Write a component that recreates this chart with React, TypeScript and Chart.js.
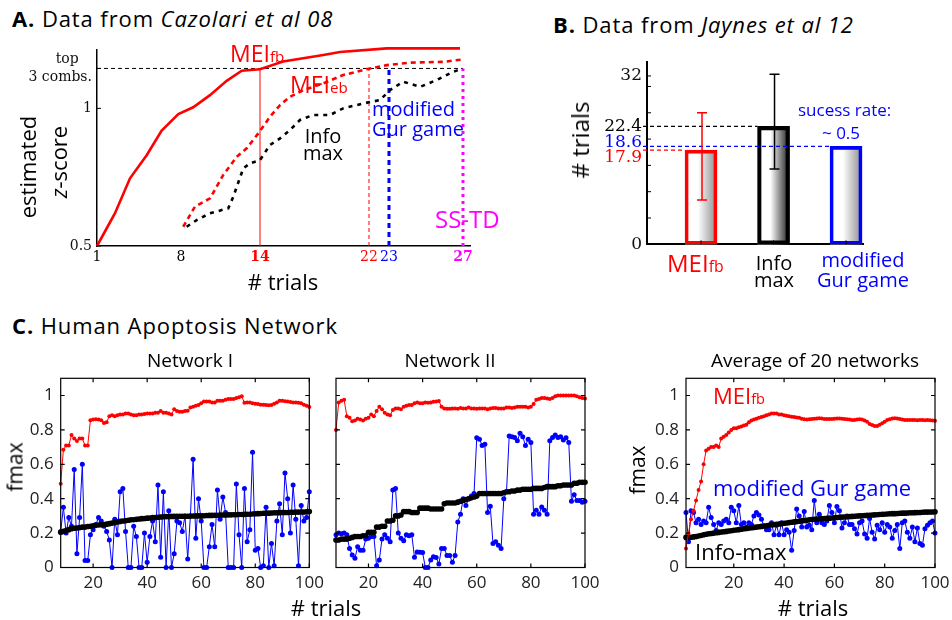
import React, { useEffect, useRef } from 'react';
import { Chart, registerables, LinearScale } from 'chart.js';

Chart.register(...registerables);

// ================= DATA =================
// Panel A (Cazolari et al 08). The reference's trial axis is non-uniform:
// these knots give each labelled trial's fraction of the axis length.
const aAxisKnotTrials = [1, 8, 14, 22, 23, 27, 27.38];
const aAxisKnotFrac = [0, 0.2252, 0.437, 0.7292, 0.7828, 0.9812, 1];
const aXTicks = [1, 8, 14, 22, 23, 27];
const aYTicks = [0.5, 1, 1.145];
const aTopValue = 1.145;
const aYMin = 0.5;
const aMeiFbX = [1, 2.5, 3.75, 5.14, 6.39, 7.78, 8.93, 10.2, 11.47, 12.61, 14, 15.69, 18.65, 19.87, 22.89, 26.84];
const aMeiFbY = [0.5, 0.619, 0.746, 0.83, 0.919, 0.979, 1.004, 1.048, 1.1, 1.137, 1.142, 1.17, 1.194, 1.205, 1.218, 1.218];
const aMeiEbX = [8.17, 9.06, 10.2, 11.21, 12.23, 12.99, 13.87, 14.73, 15.47, 16.2, 17.18, 18.65, 20.11, 22.05, 22.89, 24.14, 25.94, 27.02];
const aMeiEbY = [0.57, 0.643, 0.673, 0.758, 0.824, 0.855, 0.909, 0.969, 1.012, 1.042, 1.066, 1.091, 1.121, 1.145, 1.157, 1.166, 1.169, 1.178];
const aInfoX = [8.43, 9.19, 10.2, 11.59, 11.97, 12.73, 13.24, 14, 14.73, 15.47, 16.2, 16.94, 17.91, 19.14, 20.11, 21.58, 22.55, 23.05, 23.77, 24.68, 25.58, 26.3, 26.93];
const aInfoY = [0.57, 0.594, 0.619, 0.637, 0.679, 0.782, 0.8, 0.812, 0.867, 0.891, 0.921, 0.958, 0.976, 0.976, 1.0, 1.018, 1.03, 1.066, 1.097, 1.078, 1.103, 1.127, 1.145];
const aMarkTrials = [14, 22, 23, 27];
const aMarkTops = [1.142, 1.145, 1.145, 1.145];

// Panel B (Jaynes et al 12)
const bCats = ['MEIfb', 'Info max', 'modified Gur game'];
const bPos = [1, 2, 3];
const bValues = [17.9, 22.4, 18.6];
const bErrLow = [8.4, 14.3, null];
const bErrHigh = [25.0, 32.3, null];
const bYTicks = [0, 5, 10, 15, 20, 25, 30, 32];
const bYLabeled = [0, 32];

// Panel C (Human Apoptosis Network)
const cXTicks = [20, 40, 60, 80, 100];
const cYTicks = [0, 0.2, 0.4, 0.6, 0.8, 1];
const c1First = 8;
const c1Mei = [
  0.487, 0.684, 0.71, 0.71, 0.77, 0.75, 0.735, 0.75, 0.75, 0.71,
  0.71, 0.856, 0.86, 0.862, 0.86, 0.856, 0.84, 0.845, 0.88, 0.885,
  0.88, 0.885, 0.89, 0.89, 0.895, 0.895, 0.89, 0.885, 0.885, 0.89,
  0.89, 0.893, 0.895, 0.895, 0.895, 0.9, 0.9, 0.91, 0.9, 0.9,
  0.895, 0.89, 0.92, 0.91, 0.905, 0.905, 0.91, 0.912, 0.93, 0.935,
  0.94, 0.945, 0.955, 0.965, 0.965, 0.965, 0.96, 0.96, 0.97, 0.97,
  0.97, 0.975, 0.98, 0.98, 0.98, 0.985, 0.99, 0.995, 0.958, 0.96,
  0.96, 0.955, 0.952, 0.95, 0.946, 0.946, 0.945, 0.943, 0.945, 0.952,
  0.96, 0.97, 0.97, 0.967, 0.965, 0.962, 0.96, 0.96, 0.958, 0.955,
  0.946, 0.94, 0.933,
];
const c1Gur = [
  0.21, 0.35, 0.2, 0.29, 0.24, 0.57, 0.08, 0.29, 0.6, 0.04,
  0.04, 0.19, 0.22, 0.25, 0.29, 0.27, 0.24, 0.21, 0.16, 0,
  0.28, 0.19, 0.44, 0.46, 0.21, 0, 0, 0.24, 0.18, 0,
  0, 0.2, 0.03, 0.18, 0.27, 0.15, 0.48, 0.06, 0.44, 0,
  0.33, 0, 0.08, 0.27, 0.26, 0.21, 0.3, 0.05, 0.3, 0.63,
  0.17, 0.4, 0.27, 0, 0, 0.12, 0.25, 0.12, 0.45, 0.28,
  0.41, 0.32, 0, 0, 0, 0.485, 0.19, 0, 0.46, 0.15,
  0.22, 0.67, 0.1, 0.11, 0, 0.01, 0.35, 0, 0.14, 0.01,
  0.27, 0.37, 0.19, 0.55, 0.4, 0.2, 0.48, 0.28, 0.01, 0.36,
  0.27, 0.29, 0.44,
];
const c1Info = [
  0.205, 0.21, 0.215, 0.22, 0.225, 0.228, 0.23, 0.232, 0.235, 0.235,
  0.238, 0.24, 0.243, 0.245, 0.247, 0.248, 0.25, 0.252, 0.255, 0.258,
  0.262, 0.265, 0.268, 0.27, 0.272, 0.275, 0.277, 0.278, 0.28, 0.282,
  0.284, 0.285, 0.287, 0.288, 0.29, 0.29, 0.292, 0.294, 0.295, 0.296,
  0.296, 0.297, 0.297, 0.298, 0.298, 0.298, 0.298, 0.298, 0.299, 0.299,
  0.3, 0.3, 0.3, 0.301, 0.302, 0.303, 0.303, 0.304, 0.304, 0.305,
  0.305, 0.305, 0.306, 0.306, 0.307, 0.307, 0.308, 0.308, 0.309, 0.31,
  0.31, 0.311, 0.312, 0.313, 0.314, 0.315, 0.316, 0.316, 0.317, 0.318,
  0.318, 0.319, 0.32, 0.32, 0.32, 0.321, 0.321, 0.322, 0.322, 0.323,
  0.323, 0.324, 0.325,
];
const c2First = 8;
const c2Mei = [
  0.8, 0.96, 0.97, 0.975, 0.88, 0.87, 0.85, 0.855, 0.865, 0.86,
  0.855, 0.865, 0.87, 0.89, 0.88, 0.91, 0.935, 0.92, 0.9, 0.89,
  0.885, 0.915, 0.925, 0.925, 0.92, 0.935, 0.94, 0.945, 0.945, 0.955,
  0.96, 0.955, 0.955, 0.96, 0.958, 0.96, 0.963, 0.965, 0.968, 0.935,
  0.925, 0.923, 0.923, 0.925, 0.925, 0.923, 0.928, 0.925, 0.925, 0.93,
  0.925, 0.925, 0.923, 0.925, 0.925, 0.925, 0.92, 0.925, 0.928, 0.928,
  0.925, 0.925, 0.925, 0.93, 0.93, 0.928, 0.93, 0.935, 0.935, 0.935,
  0.935, 0.93, 0.935, 0.95, 0.975, 0.98, 0.985, 0.985, 0.982, 0.98,
  0.985, 0.995, 1.0, 1.0, 1.0, 1.0, 1.0, 1.0, 1.0, 0.995,
  0.99, 0.985, 0.983,
];
const c2Gur = [
  0.19, 0.2, 0.196, 0.2, 0.19, 0.11, 0.073, 0.054, 0.12, 0.1,
  0.1, 0.165, 0.17, 0.18, 0.18, 0.01, 0.044, 0.165, 0.19, 0.17,
  0.15, 0.45, 0.46, 0.2, 0.17, 0.155, 0.19, 0.185, 0.19, 0.06,
  0.09, 0.088, 0.087, 0, 0, 0.044, 0.063, 0.058, 0.02, 0.11,
  0.11, 0.07, 0.07, 0.03, 0.07, 0.265, 0.31, 0.4, 0.36, 0.4,
  0.415, 0.43, 0.755, 0.746, 0.71, 0.717, 0.32, 0.356, 0.14, 0.15,
  0.13, 0.11, 0.4, 0.44, 0.765, 0.76, 0.756, 0.737, 0.78, 0.76,
  0.71, 0.746, 0.727, 0.31, 0.333, 0.31, 0.352, 0.333, 0.31, 0.737,
  0.756, 0.77, 0.756, 0.76, 0.742, 0.754, 0.727, 0.385, 0.423, 0.39,
  0.39, 0.38, 0.385,
];
const c2Info = [
  0.16, 0.16, 0.165, 0.165, 0.165, 0.17,
  0.175, 0.18, 0.18, 0.18, 0.185, 0.185,
  0.205, 0.205, 0.205,
  0.235, 0.235, 0.24, 0.24,
  0.27, 0.27, 0.275,
  0.3, 0.3, 0.305,
  0.325, 0.325, 0.325, 0.32, 0.32, 0.32,
  0.345, 0.345, 0.345, 0.345, 0.34, 0.34, 0.34, 0.34, 0.34,
  0.37, 0.375, 0.375, 0.375, 0.375,
  0.38, 0.385, 0.39,
  0.395, 0.4, 0.405, 0.41, 0.415,
  0.43, 0.43, 0.43, 0.43, 0.43, 0.43, 0.43, 0.43, 0.43, 0.435,
  0.44, 0.44, 0.445, 0.445,
  0.45, 0.45, 0.455, 0.455, 0.455, 0.455,
  0.46, 0.46, 0.46, 0.46, 0.465,
  0.47, 0.47, 0.47, 0.47,
  0.475, 0.475, 0.48, 0.48, 0.48, 0.48,
  0.49, 0.49, 0.495, 0.495, 0.495,
];
const c3First = 1;
const c3Mei = [
  0.11, 0.2, 0.28, 0.33, 0.39, 0.45, 0.5, 0.6, 0.68, 0.69,
  0.7, 0.7, 0.71, 0.7, 0.75, 0.76, 0.77, 0.785, 0.8, 0.81,
  0.81, 0.815, 0.82, 0.825, 0.83, 0.845, 0.855, 0.86, 0.865, 0.87,
  0.875, 0.88, 0.885, 0.89, 0.895, 0.895, 0.895, 0.89, 0.89, 0.885,
  0.882, 0.88, 0.877, 0.875, 0.872, 0.87, 0.865, 0.862, 0.86, 0.862,
  0.863, 0.865, 0.867, 0.868, 0.866, 0.864, 0.863, 0.863, 0.864, 0.865,
  0.866, 0.867, 0.865, 0.863, 0.862, 0.86, 0.857, 0.858, 0.86, 0.862,
  0.86, 0.855, 0.848, 0.835, 0.828, 0.822, 0.822, 0.83, 0.838, 0.848,
  0.857, 0.862, 0.867, 0.868, 0.866, 0.863, 0.86, 0.858, 0.857, 0.857,
  0.858, 0.857, 0.856, 0.857, 0.857, 0.856, 0.857, 0.856, 0.855, 0.853,
];
const c3Gur = [
  0.32, 0.15, 0.33, 0.32, 0.26, 0.28, 0.25, 0.27, 0.26, 0.35,
  0.29, 0.25, 0.215, 0.26, 0.25, 0.27, 0.28, 0.26, 0.35, 0.33,
  0.26, 0.36, 0.25, 0.26, 0.235, 0.26, 0.25, 0.3, 0.32, 0.305,
  0.28, 0.24, 0.22, 0.22, 0.26, 0.19, 0.245, 0.19, 0.26, 0.19,
  0.22, 0.205, 0.1, 0.215, 0.34, 0.3, 0.235, 0.325, 0.235, 0.245,
  0.22, 0.39, 0.26, 0.31, 0.26, 0.25, 0.27, 0.36, 0.32, 0.26,
  0.355, 0.33, 0.23, 0.26, 0.3, 0.25, 0.25, 0.225, 0.195, 0.26,
  0.27, 0.195, 0.17, 0.285, 0.205, 0.165, 0.245, 0.22, 0.26, 0.205,
  0.25, 0.235, 0.17, 0.215, 0.25, 0.11, 0.26, 0.27, 0.205, 0.17,
  0.235, 0.15, 0.23, 0.14, 0.13, 0.225, 0.245, 0.26, 0.27, 0.2,
];
const c3Info = [
  0.175, 0.175, 0.176, 0.178, 0.18, 0.183, 0.186, 0.19, 0.193, 0.196,
  0.198, 0.2, 0.202, 0.204, 0.206, 0.208, 0.21, 0.212, 0.214, 0.216,
  0.218, 0.22, 0.222, 0.225, 0.227, 0.229, 0.231, 0.233, 0.235, 0.237,
  0.239, 0.241, 0.243, 0.245, 0.247, 0.249, 0.251, 0.253, 0.255, 0.257,
  0.259, 0.261, 0.263, 0.265, 0.267, 0.269, 0.271, 0.273, 0.275, 0.277,
  0.279, 0.28, 0.281, 0.282, 0.284, 0.285, 0.286, 0.287, 0.288, 0.289,
  0.291, 0.292, 0.293, 0.294, 0.295, 0.296, 0.297, 0.298, 0.299, 0.3,
  0.301, 0.302, 0.303, 0.304, 0.305, 0.306, 0.307, 0.308, 0.309, 0.31,
  0.311, 0.312, 0.313, 0.313, 0.314, 0.315, 0.316, 0.316, 0.317, 0.318,
  0.318, 0.319, 0.32, 0.32, 0.321, 0.322, 0.322, 0.323, 0.323, 0.324,
];

// ---------- custom piecewise-linear scale for panel A's non-uniform trial axis ----------
function warpFrac(v: number) {
  const V = aAxisKnotTrials;
  const D = aAxisKnotFrac;
  let i = 0;
  while (i < V.length - 2 && v > V[i + 1]) i++;
  return D[i] + ((v - V[i]) / (V[i + 1] - V[i])) * (D[i + 1] - D[i]);
}
function unwarpFrac(d: number) {
  const V = aAxisKnotTrials;
  const D = aAxisKnotFrac;
  let i = 0;
  while (i < D.length - 2 && d > D[i + 1]) i++;
  return V[i] + ((d - D[i]) / (D[i + 1] - D[i])) * (V[i + 1] - V[i]);
}
class WarpScale extends LinearScale {
  static id = 'warp';
  static defaults = {};
  getPixelForValue(value: number) {
    if (value === null || value === undefined || isNaN(value)) return NaN;
    return this.getPixelForDecimal(warpFrac(value));
  }
  getValueForPixel(pixel: number) {
    return unwarpFrac(this.getDecimalForPixel(pixel));
  }
}
Chart.register(WarpScale);

// ================= STYLE =================
const SANS = "'Open Sans', 'DejaVu Sans', sans-serif";
const SERIF = "'DejaVu Serif', serif";
const RED = '#ff0000';
const BLUE = '#0000ff';
const MAG = '#ff00ff';
const BLK = '#000000';

const aXTickColors = [BLK, BLK, RED, RED, BLUE, MAG];
const aXTickBold = [false, false, true, false, false, true];
const aMarkStyles = [
  { color: RED, width: 1, dash: [] as number[] },
  { color: RED, width: 1, dash: [4, 3] },
  { color: BLUE, width: 3, dash: [5, 4] },
  { color: MAG, width: 3, dash: [3, 4] },
];
const bColors = [RED, BLK, BLUE];
const bShade = ['#8c8c8c', '#1a1a1a', '#8c8c8c'];
const bBorderW = [3, 3.5, 3];
const B_BAR_W = 32;
const B_LABEL_NUDGE = [7, 0, -4];

type Rect = { x: number; y: number; w: number; h: number };
type Area = { l: number; t: number; r: number; b: number };
function pad(c: Rect, a: Area, yW: number, xH: number) {
  return { left: a.l - c.x - yW, top: a.t - c.y, right: c.x + c.w - a.r, bottom: c.y + c.h - a.b - xH };
}

const CAN_A: Rect = { x: 0, y: 36, w: 490, h: 240 };
const AREA_A: Area = { l: 97, t: 50, r: 470, b: 246 };
const CAN_B: Rect = { x: 590, y: 50, w: 290, h: 210 };
const AREA_B: Area = { l: 647, t: 62, r: 863, b: 244.3 };
const CAN_C1: Rect = { x: 0, y: 366, w: 335, h: 230 };
const AREA_C1: Area = { l: 60.7, t: 378.3, r: 309.3, b: 567.5 };
const CAN_C2: Rect = { x: 318, y: 366, w: 290, h: 230 };
const AREA_C2: Area = { l: 336, t: 378.3, r: 585, b: 567.5 };
const CAN_C3: Rect = { x: 630, y: 366, w: 322, h: 230 };
const AREA_C3: Area = { l: 686, t: 378.3, r: 935, b: 567.5 };

function baseOptions(padding: any) {
  return {
    animation: false,
    responsive: false,
    maintainAspectRatio: false,
    events: [],
    layout: { padding },
    plugins: { legend: { display: false }, tooltip: { enabled: false }, title: { display: false } },
  };
}

function framePlugin(o: { box?: boolean; xTicks?: boolean; yTicks?: boolean; len?: number; width?: number }) {
  return {
    id: 'frame',
    afterDatasetsDraw(chart: any) {
      const { ctx, chartArea: a, scales } = chart;
      const L = o.len ?? 4;
      ctx.save();
      ctx.strokeStyle = '#000';
      ctx.lineWidth = o.width ?? 1;
      ctx.setLineDash([]);
      ctx.beginPath();
      if (o.yTicks) {
        for (const t of scales.y.ticks) {
          const p = scales.y.getPixelForValue(t.value);
          ctx.moveTo(a.left, p);
          ctx.lineTo(a.left + L, p);
          if (o.box) {
            ctx.moveTo(a.right, p);
            ctx.lineTo(a.right - L, p);
          }
        }
      }
      if (o.xTicks) {
        for (const t of scales.x.ticks) {
          const p = scales.x.getPixelForValue(t.value);
          ctx.moveTo(p, a.bottom);
          ctx.lineTo(p, a.bottom - L);
          if (o.box) {
            ctx.moveTo(p, a.top);
            ctx.lineTo(p, a.top + L);
          }
        }
      }
      ctx.stroke();
      if (o.box) ctx.strokeRect(a.left, a.top, a.right - a.left, a.bottom - a.top);
      ctx.restore();
    },
  };
}

// gradient fill inside the bars (drawn before Chart.js draws the bar outlines)
const bBarShade = {
  id: 'bBarShade',
  beforeDatasetsDraw(chart: any) {
    const { ctx } = chart;
    const meta = chart.getDatasetMeta(0);
    ctx.save();
    meta.data.forEach((el: any, i: number) => {
      const { x, y, base, width } = el.getProps(['x', 'y', 'base', 'width'], true);
      if (![x, y, base, width].every((v: number) => Number.isFinite(v))) return;
      const left = x - width / 2;
      const g = ctx.createLinearGradient(left, 0, left + width, 0);
      g.addColorStop(0, '#ffffff');
      g.addColorStop(0.4, '#ffffff');
      g.addColorStop(1, bShade[i]);
      ctx.fillStyle = g;
      ctx.fillRect(left, Math.min(y, base), width, Math.abs(base - y));
    });
    ctx.restore();
  },
};

const bBarDecor = {
  id: 'bBarDecor',
  afterDatasetsDraw(chart: any) {
    const { ctx, chartArea: a, scales } = chart;
    const x = scales.x;
    const y = scales.y;
    ctx.save();
    bValues.forEach((v, i) => {
      const py = y.getPixelForValue(v);
      const left = x.getPixelForValue(bPos[i]) - B_BAR_W / 2;
      ctx.strokeStyle = bColors[i];
      ctx.lineWidth = 1.2;
      ctx.setLineDash([4, 3]);
      ctx.beginPath();
      ctx.moveTo(a.left - 4, py);
      ctx.lineTo(left, py);
      ctx.stroke();
      ctx.setLineDash([]);
      ctx.fillStyle = bColors[i];
      ctx.font = `17px ${SERIF}`;
      ctx.textAlign = 'right';
      ctx.textBaseline = 'middle';
      ctx.fillText(v.toFixed(1), a.left - 5, py + B_LABEL_NUDGE[i]);
    });
    bErrLow.forEach((lo, i) => {
      const hi = bErrHigh[i];
      if (lo == null || hi == null) return;
      const cx = x.getPixelForValue(bPos[i]) + 1;
      const y0 = y.getPixelForValue(lo);
      const y1 = y.getPixelForValue(hi);
      ctx.strokeStyle = bColors[i];
      ctx.lineWidth = 1.5;
      ctx.beginPath();
      ctx.moveTo(cx, y0);
      ctx.lineTo(cx, y1);
      ctx.moveTo(cx - 5, y0);
      ctx.lineTo(cx + 5, y0);
      ctx.moveTo(cx - 5, y1);
      ctx.lineTo(cx + 5, y1);
      ctx.stroke();
    });
    ctx.restore();
  },
};

function lineDs(xs: number[], ys: number[], color: string, width: number, dash: number[], extra: any = {}) {
  return {
    data: xs.map((x, i) => ({ x, y: ys[i] })),
    borderColor: color,
    backgroundColor: color,
    borderWidth: width,
    borderDash: dash,
    pointRadius: 0,
    fill: false,
    tension: 0,
    ...extra,
  };
}

function seriesDs(first: number, ys: number[], color: string, radius: number) {
  return {
    data: ys.map((y, i) => ({ x: first + i, y })),
    borderColor: color,
    backgroundColor: color,
    pointBackgroundColor: color,
    pointBorderWidth: 0,
    pointRadius: radius,
    borderWidth: 1,
    fill: false,
    tension: 0,
    clip: false,
  };
}

function cConfig(can: Rect, area: Area, yW: number, xMin: number, showY: boolean, first: number, mei: number[], gur: number[], info: number[]) {
  return {
    type: 'line',
    data: {
      datasets: [
        seriesDs(first, mei, RED, 2),
        seriesDs(first, info, BLK, 2.8),
        seriesDs(first, gur, BLUE, 2.5),
      ],
    },
    options: {
      ...baseOptions(pad(can, area, yW, 26)),
      scales: {
        x: {
          type: 'linear',
          min: xMin,
          max: 100,
          afterBuildTicks: (s: any) => { s.ticks = cXTicks.map((v) => ({ value: v })); },
          afterFit: (s: any) => { s.height = 26; s.paddingLeft = 0; s.paddingRight = 0; },
          grid: { display: false, drawTicks: false },
          border: { display: false },
          ticks: { font: { family: SANS, size: 17 }, color: '#222', padding: 5, maxRotation: 0, autoSkip: false, callback: (v: any) => String(v) },
        },
        y: {
          type: 'linear',
          min: 0,
          max: 1.1,
          afterBuildTicks: (s: any) => { s.ticks = cYTicks.map((v) => ({ value: v })); },
          afterFit: (s: any) => { s.width = yW; s.paddingTop = 0; s.paddingBottom = 0; },
          grid: { display: false, drawTicks: false },
          border: { display: false },
          ticks: { display: showY, font: { family: SANS, size: 17 }, color: '#222', padding: 7, callback: (v: any) => String(Math.round(v * 10) / 10) },
        },
      },
    },
    plugins: [framePlugin({ box: true, xTicks: true, yTicks: true, len: 4, width: 1.2 })],
  };
}

type TP = { x: number; b: number; size: number; lh?: number; color?: string; align?: 'left' | 'center' | 'right'; children: React.ReactNode; style?: React.CSSProperties };
function Txt({ x, b, size, lh, color = '#000', align = 'left', children, style }: TP) {
  const L = lh ?? size;
  const top = b - L / 2 - 0.388 * size;
  const tx = align === 'center' ? '-50%' : align === 'right' ? '-100%' : '0';
  return (
    <div style={{ position: 'absolute', left: x, top, transform: `translateX(${tx})`, fontFamily: SANS, fontSize: size, lineHeight: `${L}px`, color, whiteSpace: 'pre', textAlign: align, ...style }}>
      {children}
    </div>
  );
}
function RotTxt({ cx, cy, size, color = '#000', children }: { cx: number; cy: number; size: number; color?: string; children: React.ReactNode }) {
  return (
    <div style={{ position: 'absolute', left: cx, top: cy, transform: 'translate(-50%,-50%) rotate(-90deg)', fontFamily: SANS, fontSize: size, lineHeight: `${size}px`, color, whiteSpace: 'nowrap' }}>
      {children}
    </div>
  );
}
const Sub = ({ children }: { children: React.ReactNode }) => <span style={{ fontSize: '0.66em' }}>{children}</span>;
const TITLE_STYLE: React.CSSProperties = { letterSpacing: '0.9px' };

export default function App() {
  const refA = useRef<HTMLCanvasElement>(null);
  const refB = useRef<HTMLCanvasElement>(null);
  const refC1 = useRef<HTMLCanvasElement>(null);
  const refC2 = useRef<HTMLCanvasElement>(null);
  const refC3 = useRef<HTMLCanvasElement>(null);

  useEffect(() => {
    const charts: Chart[] = [];
    const safe = (fn: () => Chart) => {
      try {
        charts.push(fn());
      } catch (e) {
        console.error(e);
      }
    };

    // ---------- Panel A ----------
    const markDs = aMarkTrials.map((t, i) =>
      lineDs([t, t], [aYMin, aMarkTops[i]], aMarkStyles[i].color, aMarkStyles[i].width, aMarkStyles[i].dash)
    );
    safe(() =>
      new Chart(refA.current!, {
        type: 'line',
        data: {
          datasets: [
            lineDs(aMeiFbX, aMeiFbY, RED, 2.6, [], { clip: false }),
            lineDs(aMeiEbX, aMeiEbY, RED, 2.6, [5, 4]),
            lineDs(aInfoX, aInfoY, BLK, 2.6, [4, 5]),
            ...markDs,
            lineDs([aXTicks[0], aXTicks[aXTicks.length - 1]], [aTopValue, aTopValue], BLK, 1, [4, 3]),
          ],
        },
        options: {
          ...baseOptions(pad(CAN_A, AREA_A, 90, 24)),
          scales: {
            x: {
              type: 'warp',
              min: aAxisKnotTrials[0],
              max: aAxisKnotTrials[aAxisKnotTrials.length - 1],
              afterBuildTicks: (s: any) => { s.ticks = aXTicks.map((v) => ({ value: v })); },
              afterFit: (s: any) => { s.height = 24; s.paddingLeft = 0; s.paddingRight = 0; },
              grid: { display: false, drawTicks: false },
              border: { color: '#000', width: 1.5 },
              ticks: {
                autoSkip: false,
                maxRotation: 0,
                padding: 3,
                callback: (v: any) => String(v),
                color: (c: any) => aXTickColors[aXTicks.indexOf(c.tick?.value)] ?? BLK,
                font: (c: any) => ({ family: SERIF, size: 14, weight: aXTickBold[aXTicks.indexOf(c.tick?.value)] ? 'bold' : 'normal' }),
              },
            },
            y: {
              type: 'linear',
              min: aYMin,
              max: 1.212,
              afterBuildTicks: (s: any) => { s.ticks = aYTicks.map((v) => ({ value: v })); },
              afterFit: (s: any) => { s.width = 90; s.paddingTop = 0; s.paddingBottom = 0; },
              grid: { display: false, drawTicks: false },
              border: { color: '#000', width: 1.5 },
              ticks: {
                padding: 5,
                color: '#111',
                font: { family: SERIF, size: 14, lineHeight: 1.3 },
                callback: (v: any) => (v === aTopValue ? ['top\u00a0\u00a0\u00a0', '3 combs.'] : String(v)),
              },
            },
          },
        },
        plugins: [framePlugin({ yTicks: true, len: 4 })],
      } as any)
    );

    // ---------- Panel B ----------
    safe(() =>
      new Chart(refB.current!, {
        type: 'bar',
        data: {
          datasets: [
            {
              data: bPos.map((x, i) => ({ x, y: bValues[i] })),
              backgroundColor: 'rgba(0,0,0,0)',
              borderColor: bColors,
              borderWidth: bBorderW,
              borderSkipped: false,
              barThickness: B_BAR_W,
            },
          ],
        },
        options: {
          ...baseOptions(pad(CAN_B, AREA_B, 50, 10)),
          scales: {
            x: {
              type: 'linear',
              min: 0.255,
              max: 3.234,
              offset: false,
              afterBuildTicks: (s: any) => { s.ticks = bPos.map((v) => ({ value: v })); },
              afterFit: (s: any) => { s.height = 10; s.paddingLeft = 0; s.paddingRight = 0; },
              grid: { display: false, drawTicks: false, offset: false },
              border: { color: '#000', width: 2 },
              ticks: { display: false },
            },
            y: {
              type: 'linear',
              min: 0,
              max: 34.65,
              afterBuildTicks: (s: any) => { s.ticks = bYTicks.map((v) => ({ value: v })); },
              afterFit: (s: any) => { s.width = 50; s.paddingTop = 0; s.paddingBottom = 0; },
              grid: { display: false, drawTicks: false },
              border: { color: '#000', width: 2 },
              ticks: {
                padding: 5,
                color: '#111',
                font: { family: SERIF, size: 17 },
                callback: (v: any) => (bYLabeled.includes(v) ? String(v) : ''),
              },
            },
          },
        },
        plugins: [bBarShade, framePlugin({ xTicks: true, yTicks: true, len: 4 }), bBarDecor],
      } as any)
    );

    // ---------- Panel C ----------
    safe(() => new Chart(refC1.current!, cConfig(CAN_C1, AREA_C1, 55, c1First, true, c1First, c1Mei, c1Gur, c1Info) as any));
    safe(() => new Chart(refC2.current!, cConfig(CAN_C2, AREA_C2, 10, c2First, false, c2First, c2Mei, c2Gur, c2Info) as any));
    safe(() => new Chart(refC3.current!, cConfig(CAN_C3, AREA_C3, 50, c3First, true, c3First, c3Mei, c3Gur, c3Info) as any));

    return () => charts.forEach((c) => c.destroy());
  }, []);

  const cv = (r: React.RefObject<HTMLCanvasElement>, c: Rect) => (
    <canvas ref={r} width={c.w} height={c.h} style={{ position: 'absolute', left: c.x, top: c.y, width: c.w, height: c.h }} />
  );

  return (
    <div style={{ position: 'absolute', left: 0, top: 0, width: 952, height: 620, background: '#fff', overflow: 'hidden', fontFamily: SANS }}>
      {cv(refA, CAN_A)}
      {cv(refB, CAN_B)}
      {cv(refC1, CAN_C1)}
      {cv(refC2, CAN_C2)}
      {cv(refC3, CAN_C3)}

      {/* Panel A texts */}
      <Txt x={12} b={27} size={22} style={TITLE_STYLE}><b>A.</b> Data from <i>Cazolari et al 08</i></Txt>
      <Txt x={230} b={62} size={23} color={RED}>MEI<Sub>fb</Sub></Txt>
      <Txt x={290} b={93} size={23} color={RED}>MEI<Sub>eb</Sub></Txt>
      <Txt x={323} b={143} size={20} lh={17} align="center">{'Info\nmax'}</Txt>
      <Txt x={372} b={116.7} size={20} lh={20} color={BLUE}>{'modified\nGur game'}</Txt>
      <Txt x={435} b={228.6} size={24} color={MAG}>SS-TD</Txt>
      <Txt x={283} b={290} size={22} align="center"># trials</Txt>
      <RotTxt cx={27} cy={167} size={22}>estimated</RotTxt>
      <RotTxt cx={58} cy={162} size={22}><i>z</i>-score</RotTxt>

      {/* Panel B texts */}
      <Txt x={553} b={33} size={22} style={TITLE_STYLE}><b>B.</b> Data from <i>Jaynes et al 12</i></Txt>
      <RotTxt cx={580} cy={140} size={24}># trials</RotTxt>
      <Txt x={798} b={116} size={17} color={BLUE}>sucess rate:</Txt>
      <Txt x={822} b={139} size={17} color={BLUE}>~ 0.5</Txt>
      <Txt x={667} b={272} size={24} color={RED}>MEI<Sub>fb</Sub></Txt>
      <Txt x={774} b={270} size={20} lh={17} align="center">{'Info\nmax'}</Txt>
      <Txt x={863} b={268} size={20} lh={20} align="center" color={BLUE}>{'modified\nGur game'}</Txt>

      {/* Panel C texts */}
      <Txt x={12} b={334} size={22} style={TITLE_STYLE}><b>C.</b> Human Apoptosis Network</Txt>
      <Txt x={190} b={368} size={19} align="center">Network I</Txt>
      <Txt x={450} b={368} size={19} align="center">Network II</Txt>
      <Txt x={815} b={368} size={19} align="center">Average of 20 networks</Txt>
      <RotTxt cx={15} cy={467} size={21}>fmax</RotTxt>
      <RotTxt cx={637} cy={470} size={21}>fmax</RotTxt>
      <Txt x={326} b={616} size={22} align="center"># trials</Txt>
      <Txt x={813} b={616} size={22} align="center"># trials</Txt>
      <Txt x={713} b={404} size={22} color={RED}>MEI<Sub>fb</Sub></Txt>
      <Txt x={713} b={496} size={22} color={BLUE}>modified Gur game</Txt>
      <Txt x={695} b={560} size={22}>Info-max</Txt>
      <span style={{ display: 'none' }}>{bCats.join(',')}</span>
    </div>
  );
}
